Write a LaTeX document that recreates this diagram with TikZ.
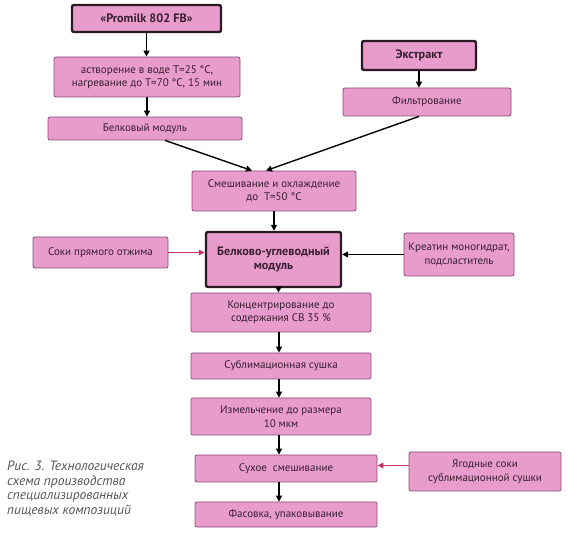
\documentclass[tikz,border=0pt]{standalone}
\usepackage{fontspec}
\setmainfont{PT Sans}
\usetikzlibrary{arrows.meta,calc}
\definecolor{boxfill}{HTML}{E79CCB}
\definecolor{thinline}{HTML}{8A4A78}
\definecolor{thickline}{HTML}{2A1A24}
\definecolor{boxtext}{HTML}{3A1E32}
\definecolor{redarrow}{HTML}{C23062}
\definecolor{captext}{HTML}{555555}
\tikzset{
  box/.style={draw=thinline, line width=0.8pt, fill=boxfill, rounded corners=2pt,
    text=boxtext, font=\fontsize{11}{13.5}\selectfont, align=center, inner sep=2pt},
  mainbox/.style={box, draw=thickline, line width=2.4pt, font=\fontsize{12.2}{14.5}\selectfont\bfseries},
  arr/.style={line width=1.4pt, draw=black, -{Triangle[length=6pt,width=6pt]}},
  redarr/.style={line width=1.4pt, draw=redarrow, -{Triangle[length=6pt,width=5.5pt]}},
}
\begin{document}
\begin{tikzpicture}[x=1pt,y=-1pt]
\useasboundingbox (0,0) rectangle (584,534);
\node[mainbox, minimum width=149pt, minimum height=27pt] (promilk) at (146.5,18.5) {«Promilk 802 FB»};
\node[box, minimum width=186pt, minimum height=40pt] (dissolve) at (147,77) {астворение в воде Т=25 °С,\\нагревание до Т=70 °С, 15 мин};
\node[box, minimum width=194pt, minimum height=23pt] (belk) at (145,128.5) {Белковый модуль};
\node[mainbox, minimum width=114pt, minimum height=29pt] (extr) at (419,55.5) {Экстракт};
\node[box, minimum width=168pt, minimum height=28pt] (filt) at (427,102) {Фильтрование};
\node[box, minimum width=164pt, minimum height=40pt] (mix) at (274,191) {Смешивание и охлаждение\\до ~Т=50 °С};
\node[mainbox, minimum width=135pt, minimum height=55pt] (modul) at (273.5,259.5) {Белково-углеводный\\модуль};
\node[box, minimum width=135pt, minimum height=31pt] (soki) at (100.5,252.5) {Соки прямого отжима};
\node[box, minimum width=110pt, minimum height=43pt] (kreat) at (459,254.5) {Креатин моногидрат,\\подсластитель};
\node[box, minimum width=180pt, minimum height=39pt] (konc) at (281,312.5) {Концентрирование до\\содержания СВ 35 \%};
\node[box, minimum width=180pt, minimum height=26pt] (subl) at (281,366) {Сублимационная сушка};
\node[box, minimum width=180pt, minimum height=37pt] (izm) at (281,416.5) {Измельчение до размера\\10 мкм};
\node[box, minimum width=182pt, minimum height=27pt] (suh) at (286,468.5) {Сухое ~смешивание};
\node[box, minimum width=182pt, minimum height=25pt] (fas) at (286,514.5) {Фасовка, упаковывание};
\node[box, minimum width=152pt, minimum height=39pt] (yag) at (485,471.5) {Ягодные соки\\сублимационной сушки};
\node[anchor=north west, align=left, text=captext, inner sep=0pt,
  font=\fontsize{13.5}{14.5}\selectfont\itshape] (cap) at (7,461) {Рис. 3. Технологическая\\схема производства\\специализированных\\пищевых композиций};
% connector end points
\coordinate (b1) at ($(belk.south)+(20,0)$);
\coordinate (m1) at ($(mix.north)+(-22,0)$);
\coordinate (f1) at ($(filt.south)+(-8,0)$);
\coordinate (m2) at ($(mix.north)+(-8,0)$);
\coordinate (md) at ($(modul.south)+(5,0)$);
\coordinate (kd) at ($(konc.south)+(-2,0)$);
\coordinate (sd) at ($(subl.south)+(-2,0)$);
\coordinate (id) at ($(izm.south)+(-2,0)$);
\coordinate (hd) at ($(suh.south)+(-7,0)$);
\coordinate (yw) at ($(yag.west)+(0,-6)$);
% arrows
\draw[arr] (promilk.south) -- (promilk.south |- dissolve.north);
\draw[arr] (dissolve.south) -- (dissolve.south |- belk.north);
\draw[arr] (extr.south) -- (extr.south |- filt.north);
\draw[arr] (b1) -- (m1);
\draw[arr] (f1) -- (m2);
\draw[arr] (mix.south) -- (mix.south |- modul.north);
\draw[redarr] (soki.east) -- (soki.east -| modul.west);
\draw[arr] (kreat.west) -- (kreat.west -| modul.east);
\draw[arr] (md) -- (md |- konc.north);
\draw[arr] (kd) -- (kd |- subl.north);
\draw[arr] (sd) -- (sd |- izm.north);
\draw[arr] (id) -- (id |- suh.north);
\draw[arr] (hd) -- (hd |- fas.north);
\draw[redarr] (yw) -- (yw -| suh.east);
\end{tikzpicture}
\end{document}
